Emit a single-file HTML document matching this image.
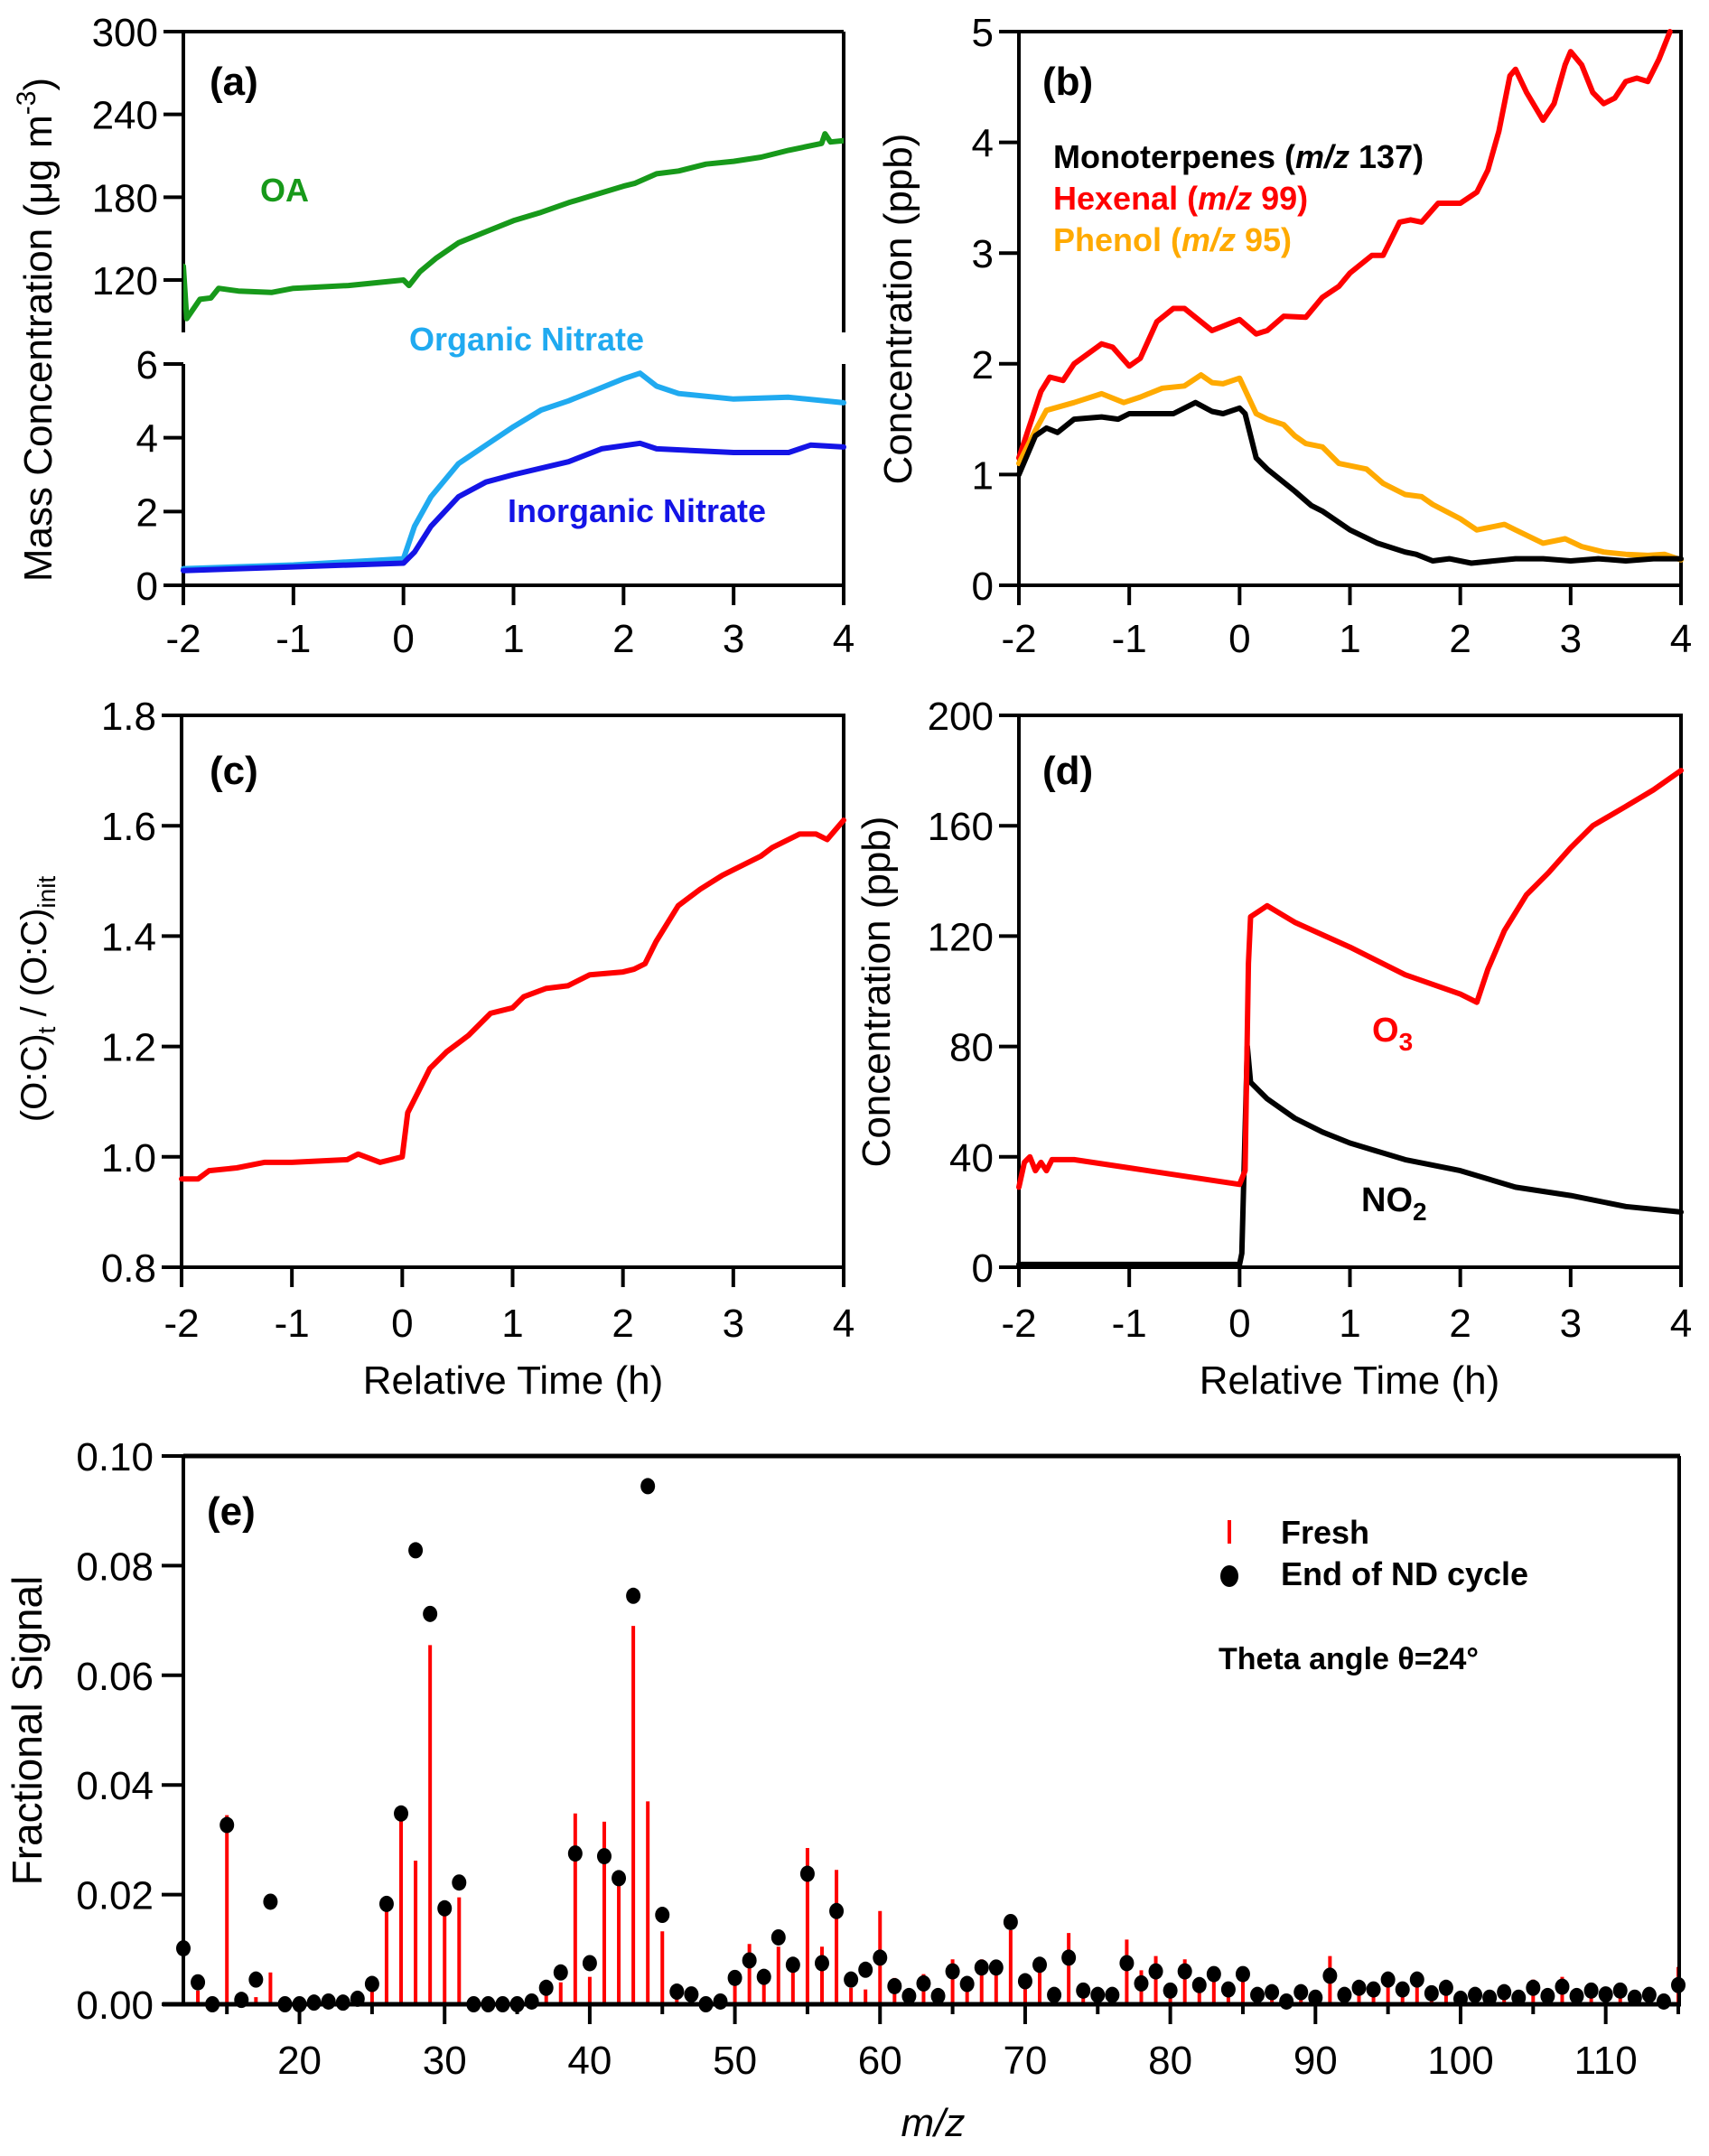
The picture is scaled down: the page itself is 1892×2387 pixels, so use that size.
<!DOCTYPE html>
<html><head><meta charset="utf-8"><style>
html,body{margin:0;padding:0;background:#fff;}
svg{display:block;font-family:"Liberation Sans",Arial,sans-serif;}
</style></head><body>
<svg id="fig" width="1892" height="2387" viewBox="0 0 1892 2387" xmlns="http://www.w3.org/2000/svg"></svg>
<script>
// ---- Panel (a) data ----
const aOA_t=[-2,-1.97,-1.85,-1.75,-1.68,-1.5,-1.2,-1,-0.5,0,0.05,0.15,0.3,0.5,0.75,1,1.25,1.5,1.75,2,2.1,2.3,2.5,2.75,3,3.25,3.5,3.8,3.83,3.88,4];
const aOA_v=[130,92,106,107,114,112,111,114,116,120,116,126,136,147,155,163,169,176,182,188,190,197,199,204,206,209,214,219,226,220,221];
const aON_t=[-2,-1,0,0.1,0.25,0.5,0.75,1,1.25,1.5,1.75,2,2.15,2.3,2.5,3,3.5,4];
const aON_v=[0.45,0.55,0.72,1.6,2.4,3.3,3.8,4.3,4.75,5.0,5.3,5.6,5.75,5.4,5.2,5.05,5.1,4.95];
const aIN_t=[-2,-1,0,0.1,0.25,0.5,0.75,1,1.5,1.8,2.15,2.3,3,3.5,3.7,4];
const aIN_v=[0.4,0.5,0.6,0.9,1.6,2.4,2.8,3.0,3.35,3.7,3.85,3.7,3.6,3.6,3.8,3.75];
// ---- Panel (b) data ----
const bHex_t=[-2,-1.8,-1.72,-1.6,-1.5,-1.25,-1.15,-1,-0.9,-0.75,-0.6,-0.5,-0.25,0,0.15,0.25,0.4,0.6,0.75,0.9,1,1.2,1.3,1.45,1.55,1.65,1.8,2,2.15,2.25,2.35,2.45,2.5,2.6,2.75,2.85,2.95,3,3.1,3.2,3.3,3.4,3.5,3.6,3.7,3.8,3.9];
const bHex_v=[1.15,1.75,1.88,1.85,2.0,2.18,2.15,1.98,2.05,2.38,2.5,2.5,2.3,2.4,2.27,2.3,2.43,2.42,2.6,2.7,2.82,2.98,2.98,3.28,3.3,3.28,3.45,3.45,3.55,3.75,4.1,4.6,4.66,4.45,4.2,4.35,4.7,4.82,4.7,4.45,4.35,4.4,4.55,4.58,4.55,4.75,5.0];
const bPhe_t=[-2,-1.85,-1.75,-1.5,-1.25,-1.05,-0.9,-0.7,-0.5,-0.35,-0.25,-0.15,0,0.15,0.25,0.4,0.5,0.6,0.75,0.9,1,1.15,1.3,1.5,1.65,1.75,2,2.15,2.4,2.5,2.75,2.95,3.1,3.3,3.5,3.7,3.85,4];
const bPhe_v=[1.1,1.4,1.58,1.65,1.73,1.65,1.7,1.78,1.8,1.9,1.83,1.82,1.87,1.55,1.5,1.45,1.35,1.28,1.25,1.1,1.08,1.05,0.92,0.82,0.8,0.73,0.6,0.5,0.55,0.5,0.38,0.42,0.35,0.3,0.28,0.27,0.28,0.23];
const bMon_t=[-2,-1.85,-1.75,-1.65,-1.5,-1.25,-1.1,-1,-0.75,-0.6,-0.4,-0.25,-0.15,0,0.05,0.15,0.25,0.5,0.65,0.75,1,1.25,1.5,1.6,1.75,1.9,2.1,2.5,2.75,3,3.25,3.5,3.75,4];
const bMon_v=[1.0,1.35,1.42,1.38,1.5,1.52,1.5,1.55,1.55,1.55,1.65,1.57,1.55,1.6,1.55,1.15,1.05,0.85,0.72,0.67,0.5,0.38,0.3,0.28,0.22,0.24,0.2,0.24,0.24,0.22,0.24,0.22,0.24,0.24];
// ---- Panel (c) data ----
const cOC_t=[-2,-1.85,-1.75,-1.5,-1.25,-1,-0.5,-0.4,-0.2,0,0.05,0.15,0.25,0.4,0.6,0.8,1,1.1,1.3,1.5,1.7,2,2.1,2.2,2.3,2.5,2.7,2.9,3,3.25,3.35,3.6,3.75,3.85,4];
const cOC_v=[0.96,0.96,0.975,0.98,0.99,0.99,0.995,1.005,0.99,1.0,1.08,1.12,1.16,1.19,1.22,1.26,1.27,1.29,1.305,1.31,1.33,1.335,1.34,1.35,1.39,1.455,1.485,1.51,1.52,1.545,1.56,1.585,1.585,1.575,1.61];
// ---- Panel (d) data ----
const dO3_t=[-2,-1.95,-1.9,-1.85,-1.8,-1.75,-1.7,-1.5,-1,-0.5,0,0.05,0.08,0.1,0.25,0.5,1,1.5,2,2.15,2.25,2.4,2.6,2.8,3,3.2,3.5,3.75,4];
const dO3_v=[29,38,40,35,38,35,39,39,36,33,30,35,110,127,131,125,116,106,99,96,108,122,135,143,152,160,167,173,180];
const dNO2_t=[-2,0,0.02,0.07,0.1,0.25,0.5,0.75,1,1.5,2,2.5,3,3.5,4];
const dNO2_v=[1,1,5,80,67,61,54,49,45,39,35,29,26,22,20];
// ---- Panel (e) data ----
const eMz=[];for(let m=12;m<=115;m++)eMz.push(m);
const eEnd=[0.0102,0.0040,0,0.0327,0.0008,0.0045,0.0187,0,0,0.0003,0.0005,0.0003,0.001,0.0037,0.0183,0.0348,0.0828,0.0712,0.0175,0.0222,0,0,0,0,0.0005,0.003,0.0058,0.0275,0.0075,0.027,0.023,0.0745,0.0945,0.0163,0.0023,0.0018,0,0.0005,0.0048,0.008,0.005,0.0122,0.0072,0.0238,0.0075,0.017,0.0045,0.0063,0.0085,0.0033,0.0015,0.0038,0.0015,0.006,0.0037,0.0067,0.0067,0.015,0.0042,0.0072,0.0017,0.0085,0.0025,0.0017,0.0017,0.0075,0.0038,0.006,0.0025,0.006,0.0035,0.0055,0.0027,0.0055,0.0017,0.0022,0.0005,0.0022,0.0012,0.0052,0.0017,0.003,0.0027,0.0045,0.0027,0.0045,0.002,0.003,0.001,0.0017,0.0012,0.0022,0.0012,0.003,0.0015,0.0032,0.0015,0.0025,0.0018,0.0025,0.0012,0.0017,0.0005,0.0035];
const eFresh=[0.007,0.0025,0,0.0345,0.0005,0.0013,0.0058,0,0,0,0,0,0,0.0025,0.0175,0.034,0.0262,0.0655,0.0165,0.0195,0,0,0,0,0.0003,0.002,0.004,0.0348,0.005,0.0333,0.0225,0.069,0.037,0.0133,0.001,0.001,0,0.0003,0.006,0.011,0.004,0.0105,0.006,0.0285,0.0105,0.0245,0.003,0.0027,0.017,0.0048,0.002,0.0055,0.0015,0.0082,0.0035,0.0082,0.006,0.0135,0.003,0.0062,0.001,0.013,0.002,0.0012,0.0012,0.0118,0.0062,0.0088,0.0025,0.0082,0.0045,0.0062,0.002,0.005,0.0012,0.0017,0.0005,0.0015,0.001,0.0088,0.0012,0.0028,0.002,0.004,0.0022,0.0045,0.0015,0.0027,0.0008,0.0017,0.0008,0.0025,0.0008,0.0045,0.001,0.005,0.0008,0.002,0.0012,0.002,0.0006,0.0012,0.0004,0.0068];
const timeTicks=[-2,-1,0,1,2,3,4];

const NS="http://www.w3.org/2000/svg";
const svg=document.getElementById('fig');
function el(tag,attrs,parent){const e=document.createElementNS(NS,tag);for(const k in attrs)e.setAttribute(k,attrs[k]);(parent||svg).appendChild(e);return e;}
function txt(x,y,s,size,opts,parent){opts=opts||{};const t=el('text',{x:x,y:y,'font-size':size,fill:opts.fill||'#000','text-anchor':opts.anchor||'start','font-weight':opts.bold?'bold':'normal'},parent);if(opts.rot)t.setAttribute('transform','rotate(-90 '+x+' '+y+')');t.textContent=s;return t;}
function lin(x0,x1,v0,v1){return v=>x0+(v-v0)*(x1-x0)/(v1-v0);}
function line(x1,y1,x2,y2,w,parent){return el('line',{x1:x1,y1:y1,x2:x2,y2:y2,stroke:'#000','stroke-width':w||4},parent);}
function poly(ts,vs,X,Y,color,name,w){const pts=ts.map((t,i)=>X(t).toFixed(1)+','+Y(vs[i]).toFixed(1)).join(' ');const p=el('polyline',{points:pts,fill:'none',stroke:color,'stroke-width':w||6,'stroke-linejoin':'round','stroke-linecap':'round'});


return p;}
function xTimeAxis(X,yb,lblY){timeTicks.forEach(t=>{line(X(t),yb,X(t),yb+22,4);const l=txt(X(t),lblY,String(t).replace('-','-'),44,{anchor:'middle'});

});}
function yAxis(Y,ticks,xl,fmt){ticks.forEach(v=>{line(xl-22,Y(v),xl,Y(v),4);const l=txt(xl-28,Y(v)+16,fmt(v),44,{anchor:'end'});

});}

// ===== Panel a =====
{const X=lin(203,934,-2,4);
const Yt=lin(310,35,120,300), Yb=lin(648,403,0,6);
const clipT=el('clipPath',{id:'ca'});el('rect',{x:203,y:35,width:731,height:333},clipT);
line(203,35,934,35);line(203,35,203,368);line(934,35,934,368);
line(203,403,203,648);line(934,403,934,648);line(201,648,936,648);
yAxis(Yt,[120,180,240,300],203,v=>String(v));
yAxis(Yb,[0,2,4,6],203,v=>String(v));
xTimeAxis(X,648,722);
const g=el('g',{'clip-path':'url(#ca)'});
const p=poly(aOA_t,aOA_v,X,Yt,'#17991a','oa-line');g.appendChild(p);
poly(aON_t,aON_v,X,Yb,'#20aaf0','organic-nitrate-line');
poly(aIN_t,aIN_v,X,Yb,'#1414e6','inorganic-nitrate-line');
txt(232,105,'(a)',44,{bold:true});
const oa=txt(288,223,'OA',36,{bold:true,fill:'#17991a'});
const on=txt(453,388,'Organic Nitrate',36,{bold:true,fill:'#20aaf0'});
const inn=txt(562,578,'Inorganic Nitrate',36,{bold:true,fill:'#1414e6'});
const yt=el('text',{x:57,y:365,'font-size':44,'text-anchor':'middle',transform:'rotate(-90 57 365)'});


yt.innerHTML='Mass Concentration (μg m<tspan dy="-18" font-size="30">-3</tspan><tspan dy="18">)</tspan>';
}
// ===== Panel b =====
{const X=lin(1128,1861,-2,4), Y=lin(648,35,0,5);
el('rect',{x:1128,y:35,width:733,height:613,fill:'none',stroke:'#000','stroke-width':4});
yAxis(Y,[0,1,2,3,4,5],1128,v=>String(v));
xTimeAxis(X,648,722);
poly(bHex_t,bHex_v,X,Y,'#ff0000','hexenal-line');
poly(bPhe_t,bPhe_v,X,Y,'#ffaa00','phenol-line');
poly(bMon_t,bMon_v,X,Y,'#000000','monoterpenes-line');
txt(1154,105,'(b)',44,{bold:true});
const l1=el('text',{x:1166,y:186,'font-size':36,'font-weight':'bold',fill:'#000'});l1.innerHTML='Monoterpenes (<tspan font-style="italic">m/z</tspan> 137)';

const l2=el('text',{x:1166,y:232,'font-size':36,'font-weight':'bold',fill:'#ff0000'});l2.innerHTML='Hexenal (<tspan font-style="italic">m/z</tspan> 99)';

const l3=el('text',{x:1166,y:278,'font-size':36,'font-weight':'bold',fill:'#ffaa00'});l3.innerHTML='Phenol (<tspan font-style="italic">m/z</tspan> 95)';

const yt=txt(1009,342,'Concentration (ppb)',44,{anchor:'middle',rot:true});

}
// ===== Panel c =====
{const X=lin(201,934,-2,4), Y=lin(1403,792,0.8,1.8);
el('rect',{x:201,y:792,width:733,height:611,fill:'none',stroke:'#000','stroke-width':4});
yAxis(Y,[0.8,1.0,1.2,1.4,1.6,1.8],201,v=>v.toFixed(1));
xTimeAxis(X,1403,1480);
poly(cOC_t,cOC_v,X,Y,'#ff0000','oc-ratio-line');
txt(232,868,'(c)',44,{bold:true});
const xt=txt(568,1543,'Relative Time (h)',44,{anchor:'middle'});

const yt=el('text',{x:51,y:1106,'font-size':40,'text-anchor':'middle',transform:'rotate(-90 51 1106)'});
yt.innerHTML='(O:C)<tspan dy="10" font-size="28">t</tspan><tspan dy="-10"> / (O:C)</tspan><tspan dy="10" font-size="28">init</tspan>';

}
// ===== Panel d =====
{const X=lin(1128,1861,-2,4), Y=lin(1403,792,0,200);
el('rect',{x:1128,y:792,width:733,height:611,fill:'none',stroke:'#000','stroke-width':4});
yAxis(Y,[0,40,80,120,160,200],1128,v=>String(v));
xTimeAxis(X,1403,1480);
poly(dNO2_t,dNO2_v,X,Y,'#000000','no2-line');
poly(dO3_t,dO3_v,X,Y,'#ff0000','o3-line');
txt(1154,868,'(d)',44,{bold:true});
const o3=el('text',{x:1519,y:1153,'font-size':38,'font-weight':'bold',fill:'#ff0000'});o3.innerHTML='O<tspan dy="10" font-size="28">3</tspan>';

const no2=el('text',{x:1507,y:1341,'font-size':38,'font-weight':'bold',fill:'#000'});no2.innerHTML='NO<tspan dy="10" font-size="28">2</tspan>';

const xt=txt(1494,1543,'Relative Time (h)',44,{anchor:'middle'});

const yt=txt(985,1098,'Concentration (ppb)',44,{anchor:'middle',rot:true});

}
// ===== Panel e =====
{const X=lin(203,1858,12,115), Y=lin(2219,1612,0,0.10);
eMz.forEach((m,i)=>{const b=el('line',{x1:X(m),x2:X(m),y1:Y(0),y2:Y(eFresh[i]),stroke:'#ff0000','stroke-width':4});

});
eMz.forEach((m,i)=>{const c=el('ellipse',{cx:X(m),cy:Y(eEnd[i]),rx:8,ry:9,fill:'#000'});

});
line(203,1612,1860,1612,5);line(203,1612,203,2221,4);line(1859,1612,1859,2221,4);line(180,2219,1861,2219,5);
[0,0.02,0.04,0.06,0.08,0.10].forEach(v=>{line(179,Y(v),203,Y(v),4);const l=txt(170,Y(v)+16,v.toFixed(2),44,{anchor:'end'});
});
for(let m=15;m<=115;m+=5){const maj=m%10===0;line(X(m),2219,X(m),2219+(maj?22:11),4);
if(maj){const l=txt(X(m),2296,String(m),44,{anchor:'middle'});}}
txt(229,1688,'(e)',44,{bold:true});
el('line',{x1:1361,x2:1361,y1:1683,y2:1709,stroke:'#ff0000','stroke-width':4});
txt(1418,1709,'Fresh',36,{bold:true});
el('ellipse',{cx:1361,cy:1745,rx:10,ry:12,fill:'#000'});
txt(1418,1755,'End of ND cycle',36,{bold:true});
txt(1349,1848,'Theta angle θ=24°',34,{bold:true});
const xt=el('text',{x:1033,y:2365,'font-size':44,'text-anchor':'middle','font-style':'italic'});xt.textContent='m/z';

const yt=txt(46,1916,'Fractional Signal',46,{anchor:'middle',rot:true});

}
</script>
</body></html>
